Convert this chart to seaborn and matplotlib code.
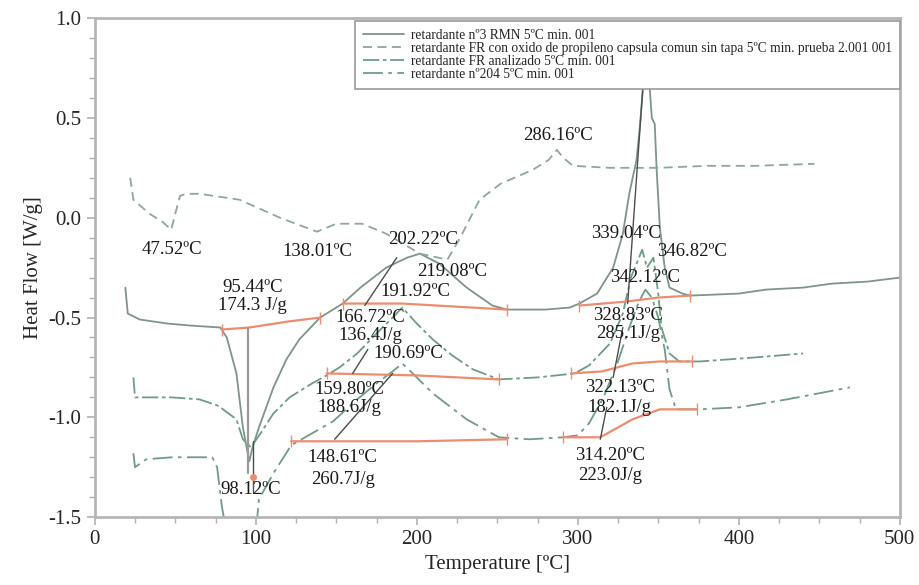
import matplotlib
matplotlib.use("Agg")
import matplotlib.pyplot as plt
import seaborn as sns

# DSC curves (temperature in C, heat flow in W/g)
rmn_x = [19, 20.5, 28, 45, 59, 78, 82, 88, 92, 95, 96, 98, 102, 111, 119, 127, 140, 154, 165,
         181, 194, 202, 214, 231, 247, 256, 280, 295, 301, 312, 322, 328, 332, 336.5, 338.5,
         340.5, 342, 344.7, 346, 347.8, 349, 351, 354, 357, 365, 370, 400, 417, 440, 458, 480, 500]
rmn_y = [-0.35, -0.48, -0.51, -0.53, -0.54, -0.55, -0.60, -0.78, -1.05, -1.18, -1.22, -1.15,
         -1.05, -0.85, -0.71, -0.61, -0.50, -0.43, -0.35, -0.25, -0.20, -0.18, -0.23, -0.35,
         -0.44, -0.46, -0.46, -0.45, -0.43, -0.38, -0.25, -0.08, 0.12, 0.29, 0.45, 0.65, 0.85,
         0.65, 0.50, 0.47, 0.24, -0.05, -0.25, -0.35, -0.38, -0.39, -0.38, -0.36, -0.35, -0.33,
         -0.32, -0.30]

oxido_x = [22, 24, 34, 42, 47.5, 50, 53, 57, 65, 90, 115, 138, 150, 166, 181, 202, 219, 227,
           239, 252, 272, 282, 287, 291, 297, 320, 350, 380, 410, 447]
oxido_y = [0.20, 0.09, 0.02, -0.02, -0.06, 0.02, 0.11, 0.12, 0.12, 0.09, 0.00, -0.07, -0.03,
           -0.03, -0.08, -0.18, -0.21, -0.10, 0.09, 0.17, 0.24, 0.29, 0.34, 0.30, 0.26, 0.25,
           0.25, 0.26, 0.26, 0.27]

analizado_x = [24, 25, 48, 65, 76, 78, 88, 92, 97, 103, 111, 121, 135, 144, 152, 163, 175, 185,
               191, 200, 210, 222, 235, 251, 275, 298, 307, 320, 328, 333, 340, 343, 347, 350,
               352, 357, 363, 376, 410, 440]
analizado_y = [-0.80, -0.90, -0.90, -0.91, -0.94, -0.95, -1.01, -1.11, -1.15, -1.08, -0.98,
               -0.90, -0.83, -0.79, -0.75, -0.68, -0.58, -0.50, -0.45, -0.53, -0.61, -0.69,
               -0.76, -0.81, -0.80, -0.78, -0.74, -0.63, -0.48, -0.30, -0.16, -0.25, -0.20,
               -0.38, -0.55, -0.68, -0.72, -0.72, -0.70, -0.68]

n204_x = [24, 25, 32, 48, 73, 76, 79, 82, 100, 102, 111, 122, 135, 148, 163, 175, 185, 191,
          200, 210, 231, 251, 270, 291, 300, 307, 316, 325, 332, 338, 342, 346, 350, 354, 357,
          361, 375, 400, 430, 469]
n204_y = [-1.18, -1.25, -1.21, -1.20, -1.20, -1.25, -1.45, -1.58, -1.58, -1.41, -1.28, -1.14,
          -1.08, -1.02, -0.91, -0.83, -0.77, -0.73, -0.80, -0.88, -1.01, -1.10, -1.11, -1.10,
          -1.09, -1.03, -0.90, -0.72, -0.55, -0.42, -0.36, -0.40, -0.50, -0.66, -0.86, -0.96,
          -0.96, -0.95, -0.91, -0.85]

# integration baselines (orange)
baselines = [
    ([79, 96, 120, 140], [-0.56, -0.55, -0.52, -0.50]),
    ([154, 191, 256], [-0.43, -0.43, -0.46]),
    ([301, 330, 350, 370], [-0.44, -0.42, -0.40, -0.39]),
    ([144, 200, 251], [-0.78, -0.79, -0.81]),
    ([296, 315, 334, 351, 371], [-0.78, -0.77, -0.73, -0.72, -0.72]),
    ([122, 200, 256], [-1.12, -1.12, -1.11]),
    ([291, 314, 334, 351, 374], [-1.10, -1.10, -1.01, -0.96, -0.96]),
]

# pointer lines from the labels to the curves
pointers = [
    ([187.6, 167.7], [-0.20, -0.44]),
    ([169.6, 160.2], [-0.66, -0.78]),
    ([185, 149], [-0.78, -1.11]),
    ([98.1, 98.1], [-1.12, -1.38]),
    ([331, 340.5], [-0.43, 0.66]),
    ([322, 328], [-0.80, -0.55]),
    ([314, 318], [-1.11, -0.95]),
]

labels = [
    (48, -0.16, "47.52ºC"), (138.5, -0.17, "138.01ºC"), (98, -0.35, "95.44ºC"),
    (98, -0.44, "174.3 J/g"), (204, -0.11, "202.22ºC"), (222, -0.27, "219.08ºC"),
    (199, -0.37, "191.92ºC"), (171, -0.50, "166.72ºC"), (171, -0.59, "136.4J/g"),
    (195, -0.68, "190.69ºC"), (158, -0.86, "159.80ºC"), (158, -0.95, "188.6J/g"),
    (154, -1.20, "148.61ºC"), (154, -1.31, "260.7J/g"), (97, -1.36, "98.12ºC"),
    (288, 0.41, "286.16ºC"), (330, -0.08, "339.04ºC"), (371, -0.17, "346.82ºC"),
    (342, -0.30, "342.12ºC"), (331, -0.49, "328.83ºC"), (331, -0.58, "285.1J/g"),
    (326, -0.85, "322.13ºC"), (326, -0.95, "182.1J/g"), (320, -1.19, "314.20ºC"),
    (320, -1.29, "223.0J/g"),
]

sns.set_theme(style="ticks")
plt.rcParams['font.family'] = ['Liberation Serif', 'DejaVu Serif']
plt.rcParams['axes.unicode_minus'] = False

fig = plt.figure(figsize=(9.2, 5.85), dpi=100)
ax = fig.add_axes([0.103, 0.116, 0.875, 0.853])

sns.lineplot(x=rmn_x, y=rmn_y, sort=False, estimator=None, ax=ax, color="#7f948a", lw=1.3,
             label="retardante nº3 RMN 5ºC min. 001")
sns.lineplot(x=oxido_x, y=oxido_y, sort=False, estimator=None, ax=ax, color="#8fa79c", lw=1.3,
             linestyle=(0, (5, 3)),
             label="retardante FR con oxido de propileno capsula comun sin tapa 5ºC min. prueba 2.001 001")
sns.lineplot(x=analizado_x, y=analizado_y, sort=False, estimator=None, ax=ax, color="#6f9c84", lw=1.3,
             linestyle=(0, (9, 2, 2, 2)), label="retardante FR analizado 5ºC min. 001")
sns.lineplot(x=n204_x, y=n204_y, sort=False, estimator=None, ax=ax, color="#6f9c84", lw=1.3,
             linestyle=(0, (11, 3, 2, 3)), label="retardante nº204 5ºC min. 001")

for bx, by in baselines:
    ax.plot(bx, by, color="#ee8c70", lw=1.6, marker="|", markersize=9, markevery=[0, len(bx) - 1])

for px, py in pointers:
    ax.plot(px, py, color="#4d4d4d", lw=1.0)
ax.plot([95.4, 95.4], [-0.55, -1.28], color="#9a9a9a", lw=1.6)
ax.plot([98.1], [-1.30], marker="o", color="#ee8c70", markersize=4)

for tx, ty, txt in labels:
    ax.text(tx, ty, txt, ha="center", va="center", fontsize=13.5, color="#1a1a1a")

ax.set_xlim(0, 500)
ax.set_ylim(-1.5, 1.0)
ax.set_xticks([0, 100, 200, 300, 400, 500])
ax.set_yticks([-1.5, -1.0, -0.5, 0.0, 0.5, 1.0])
ax.set_xticks(range(0, 501, 25), minor=True)
ax.set_yticks([i / 10 for i in range(-15, 11)], minor=True)
ax.set_yticklabels(["-1.5", "-1.0", "-0.5", "0.0", "0.5", "1.0"])
ax.tick_params(axis="both", which="major", labelsize=15, length=6, width=1.2, color="#b0b0b0")
ax.tick_params(axis="both", which="minor", length=4, width=1.0, color="#b0b0b0")
ax.set_xlabel("Temperature [ºC]", fontsize=15)
ax.set_ylabel("Heat Flow [W/g]", fontsize=15)
for sp in ax.spines.values():
    sp.set_color("#b5b5b5")
    sp.set_linewidth(2)

leg = ax.legend(loc="upper right", bbox_to_anchor=(1.0, 0.995), borderaxespad=0, fontsize=9.75,
                frameon=True, fancybox=False, edgecolor="#9a9a9a", framealpha=1,
                handlelength=3.0, labelspacing=0.0, borderpad=0.6, handletextpad=0.5)
leg.get_frame().set_linewidth(1.2)
leg.set_zorder(10)

fig.savefig("out.png", dpi=100)
